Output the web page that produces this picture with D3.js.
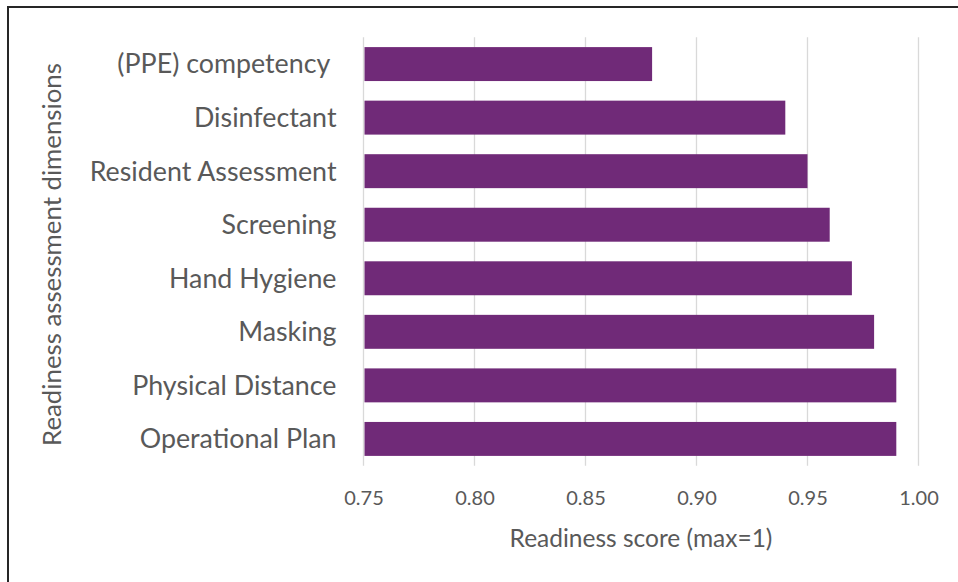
<!DOCTYPE html>
<html>
<head>
<meta charset="utf-8">
<script src="https://cdn.jsdelivr.net/npm/d3@7"></script>
<style>
  html, body { margin: 0; padding: 0; background: #fff; }
  svg { display: block; }
  text { font-family: Lato, "Open Sans", sans-serif; fill: #595959; white-space: pre; }
</style>
</head>
<body>
<svg id="chart" width="958" height="582"></svg>
<script>
const categories = ["(PPE) competency ", "Disinfectant", "Resident Assessment", "Screening",
  "Hand Hygiene", "Masking", "Physical Distance", "Operational Plan"];
const scores = [0.88, 0.94, 0.95, 0.96, 0.97, 0.98, 0.99, 0.99];
const xTicks = [0.75, 0.80, 0.85, 0.90, 0.95, 1.00];
const xTitle = "Readiness score (max=1)";
const yTitle = "Readiness assessment dimensions";

const W = 958, H = 582;
const margin = { left: 363.5, right: 958 - 918.5, top: 37.3, bottom: 582 - 465.7 };
const svg = d3.select("#chart");

svg.append("rect").attr("x", 8).attr("y", 7).attr("width", 1000).attr("height", 700)
  .attr("fill", "none").attr("stroke", "#262626").attr("stroke-width", 2);

const x = d3.scaleLinear().domain([0.75, 1.0]).range([margin.left, W - margin.right]);
const y = d3.scaleBand().domain(categories).range([margin.top, H - margin.bottom])
  .paddingInner(0.366).paddingOuter(0.183);

// gridlines
svg.append("g").selectAll("line").data(xTicks).join("line")
  .attr("x1", d => x(d)).attr("x2", d => x(d))
  .attr("y1", margin.top).attr("y2", H - margin.bottom)
  .attr("stroke", "#d9d9d9").attr("stroke-width", 1.3);

// bars
svg.append("g").selectAll("rect").data(categories).join("rect")
  .attr("x", x(0.75) + 1)
  .attr("y", d => y(d))
  .attr("width", (d, i) => x(scores[i]) - x(0.75) - 1)
  .attr("height", y.bandwidth())
  .attr("fill", "#702A78");

// x axis
const xAxis = d3.axisBottom(x).tickValues(xTicks).tickFormat(d3.format(".2f")).tickSize(0).tickPadding(0);
const gx = svg.append("g").attr("transform", `translate(0,${H - margin.bottom})`).call(xAxis);
gx.select(".domain").remove();
gx.selectAll("text").attr("font-size", 20).attr("dy", null).attr("y", 39)
  .style("font-family", "Lato, sans-serif").attr("fill", "#595959");

// y axis
const yAxis = d3.axisLeft(y).tickSize(0).tickPadding(27);
const gy = svg.append("g").attr("transform", `translate(${margin.left},0)`).call(yAxis);
gy.select(".domain").remove();
gy.selectAll("text").attr("font-size", 26.8).attr("dy", "0.35em")
  .style("font-family", "Lato, sans-serif").style("white-space", "pre").attr("fill", "#595959");

// titles
svg.append("text").attr("x", (x(0.75) + x(1.0)) / 2).attr("y", 547)
  .attr("text-anchor", "middle").attr("font-size", 24.5).text(xTitle);
svg.append("text")
  .attr("transform", `translate(61,${(margin.top + H - margin.bottom) / 2 + 3}) rotate(-90)`)
  .attr("text-anchor", "middle").attr("font-size", 25.8).text(yTitle);
</script>
</body>
</html>
